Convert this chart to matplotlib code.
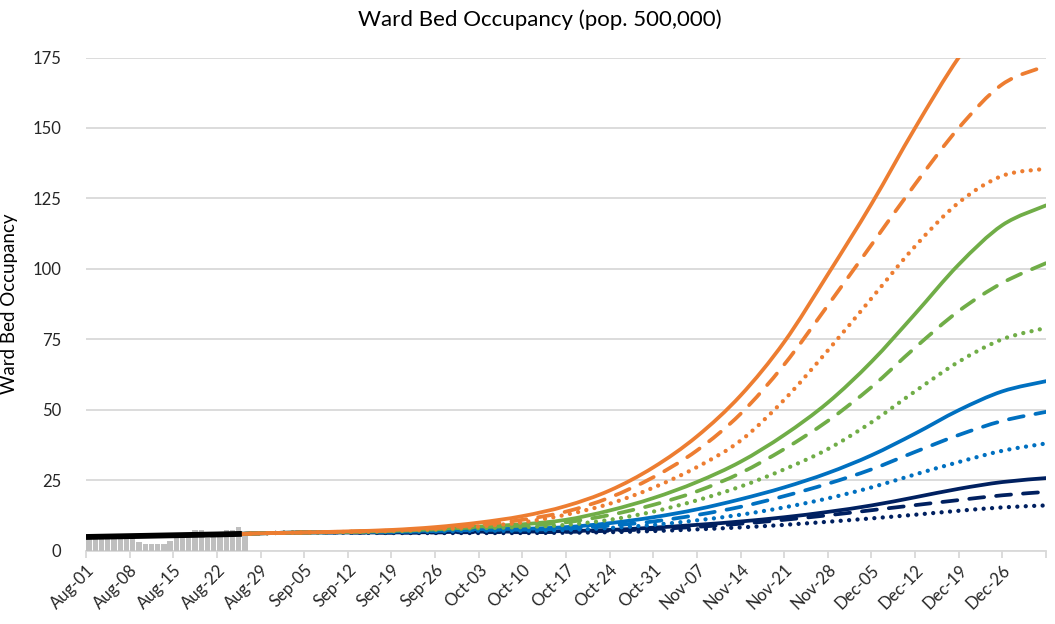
import matplotlib
matplotlib.use("Agg")
import matplotlib.pyplot as plt
import matplotlib.dates as mdates
from matplotlib.path import Path
from matplotlib.patches import PathPatch
import numpy as np
import pandas as pd

plt.rcParams['font.family'] = ['Lato', 'DejaVu Sans']

# ---------------- data ----------------
bar_start = "2020-08-01"
bar_values = [4.3, 4.3, 4.3, 4.3, 4.3, 4.3, 4.3, 4.3, 3.1, 2.3, 2.3, 2.3, 2.3, 3.4,
              5.5, 5.5, 5.5, 7.3, 7.3, 4.3, 5.5, 5.5, 7.3, 7.3, 8.2, 5.5]

actual_dates = ["2020-08-01", "2020-08-08", "2020-08-15", "2020-08-22", "2020-08-26"]
actual_values = [4.8, 5.1, 5.4, 5.7, 5.9]

scen_dates = ["2020-08-26", "2020-08-29", "2020-09-05", "2020-09-12", "2020-09-19",
              "2020-09-26", "2020-10-03", "2020-10-10", "2020-10-17", "2020-10-24",
              "2020-10-31", "2020-11-07", "2020-11-14", "2020-11-21", "2020-11-28",
              "2020-12-05", "2020-12-12", "2020-12-19", "2020-12-26", "2021-01-02"]

orange_solid = [5.9, 6.1, 6.4, 6.8, 7.3, 8.3, 9.9, 12.2, 15.8, 21.3, 29.5, 40.5, 55, 74, 98, 123, 150, 175, 195, 208]
orange_dash = [5.9, 6.1, 6.4, 6.7, 7.1, 7.9, 9.1, 10.9, 13.8, 18.8, 26, 35.5, 48.5, 66, 87, 108.5, 130, 150, 165.5, 172]
orange_dot = [5.9, 6.1, 6.4, 6.6, 7.0, 7.6, 8.5, 10.0, 12.7, 16.6, 22.3, 29.6, 39, 53.5, 71, 89.5, 108, 123.5, 133, 135.5]
green_solid = [5.9, 6.1, 6.4, 6.6, 7.0, 7.6, 8.5, 9.3, 10.9, 14.2, 18.6, 24.3, 31.5, 41, 52.5, 67, 84, 101.5, 115.5, 122.5]
green_dash = [5.9, 6.1, 6.4, 6.6, 6.9, 7.5, 8.3, 8.8, 10.0, 12.6, 16.2, 21, 27.5, 36, 46, 58, 72, 85, 95, 102]
green_dot = [5.9, 6.1, 6.4, 6.5, 6.8, 7.3, 7.9, 8.3, 9.1, 10.9, 13.8, 17.8, 22.7, 28.8, 36, 45.5, 56.5, 67, 75, 79]
blue_solid = [5.9, 6.1, 6.4, 6.5, 6.7, 7.1, 7.6, 7.7, 8.3, 9.7, 11.8, 14.6, 18.2, 22.4, 27.5, 33.8, 41.5, 49.8, 56.5, 60.1]
blue_dash = [5.9, 6.1, 6.4, 6.5, 6.6, 6.9, 7.3, 7.4, 7.8, 8.8, 10.3, 12.6, 15.5, 19.3, 23.7, 28.8, 35, 41, 46, 49.2]
blue_dot = [5.9, 6.1, 6.4, 6.4, 6.5, 6.7, 7.0, 7.0, 7.3, 8.0, 9.1, 10.7, 12.7, 15.3, 18.5, 22.4, 27, 31.4, 35.4, 38]
navy_solid = [5.9, 6.1, 6.4, 6.4, 6.4, 6.5, 6.7, 6.7, 6.9, 7.3, 8.1, 9.1, 10.3, 11.8, 13.7, 16, 18.9, 21.9, 24.3, 25.7]
navy_dash = [5.9, 6.1, 6.4, 6.4, 6.3, 6.4, 6.5, 6.5, 6.6, 7.0, 7.6, 8.4, 9.5, 10.9, 12.5, 14.3, 16.1, 17.9, 19.6, 20.8]
navy_dot = [5.9, 6.1, 6.4, 6.3, 6.2, 6.2, 6.2, 6.2, 6.3, 6.5, 6.9, 7.5, 8.2, 9.1, 10.2, 11.4, 12.7, 14.1, 15.3, 16]

tick_start = "2020-08-01"
tick_end = "2021-01-02"

title = "Ward Bed Occupancy (pop. 500,000)"
ylabel = "Ward Bed Occupancy"

# ---------------- styles ----------------
ORANGE = "#ED7D31"
GREEN = "#70AD47"
BLUE = "#0070C0"
NAVY = "#002060"
GRID = "#D9D9D9"
BAR = "#BFBFBF"
LW = 2.7
LW_DOT = 3.1

series = [
    (orange_solid, ORANGE, "solid"), (orange_dash, ORANGE, "dash"), (orange_dot, ORANGE, "dot"),
    (green_solid, GREEN, "solid"), (green_dash, GREEN, "dash"), (green_dot, GREEN, "dot"),
    (blue_solid, BLUE, "solid"), (blue_dash, BLUE, "dash"), (blue_dot, BLUE, "dot"),
    (navy_solid, NAVY, "solid"), (navy_dash, NAVY, "dash"), (navy_dot, NAVY, "dot"),
]


def smooth_path(x, y):
    """Excel-style smoothed line: cubic Bezier segments through every data point."""
    x = np.asarray(x, float)
    y = np.asarray(y, float)
    n = len(x)
    verts = [(x[0], y[0])]
    codes = [Path.MOVETO]
    for i in range(n - 1):
        i0 = max(i - 1, 0)
        i3 = min(i + 2, n - 1)
        c1 = (x[i] + (x[i + 1] - x[i0]) / 6.0, y[i] + (y[i + 1] - y[i0]) / 6.0)
        c2 = (x[i + 1] - (x[i3] - x[i]) / 6.0, y[i + 1] - (y[i3] - y[i]) / 6.0)
        verts += [c1, c2, (x[i + 1], y[i + 1])]
        codes += [Path.CURVE4] * 3
    return Path(verts, codes)


fig = plt.figure(figsize=(10.55, 6.24), dpi=100)
ax = fig.add_axes([86 / 1055, 1 - 550.5 / 624, 960 / 1055, 493 / 624])

bar_dates = pd.date_range(bar_start, periods=len(bar_values))
bar_x = mdates.date2num(bar_dates) + 0.07
ax.bar(bar_x, bar_values, width=0.85, align="edge", color=BAR, zorder=2)

sx = mdates.date2num(pd.to_datetime(scen_dates))
for vals, col, sty in reversed(series):
    lw = LW
    if sty == "solid":
        ls = "solid"
    elif sty == "dash":
        ls = (0, (4.0, 3.2))
    else:
        lw = LW_DOT
        ls = (0, (0.01, 1.95))
    patch = PathPatch(smooth_path(sx, vals), facecolor="none", edgecolor=col,
                      lw=lw, linestyle=ls, zorder=3, capstyle="round",
                      joinstyle="round")
    ax.add_patch(patch)

ax.plot(pd.to_datetime(actual_dates), actual_values, color="black", lw=4.2, zorder=4,
        solid_capstyle="butt")

ax.set_ylim(0, 175)
ax.set_yticks(range(0, 176, 25))
ax.set_xlim(pd.Timestamp(tick_start), pd.Timestamp(tick_end))
ticks = pd.date_range(tick_start, tick_end, freq="7D")
ax.set_xticks(ticks)
labels = [t.strftime("%b-%d") for t in ticks]
labels[-1] = ""
ax.set_xticklabels(labels, rotation=45, ha="right", rotation_mode="anchor",
                   fontsize=12, color="#262626")

ax.grid(axis="y", color=GRID, lw=1.3, zorder=0)
ax.set_axisbelow(True)
for s in ["top", "right", "left"]:
    ax.spines[s].set_visible(False)
ax.spines["bottom"].set_color(GRID)
ax.spines["bottom"].set_linewidth(1.3)
ax.spines["bottom"].set_zorder(1)
ax.tick_params(axis="x", direction="out", length=5, width=1.3, color=GRID, pad=3)
ax.tick_params(axis="y", length=0, labelsize=12, labelcolor="#262626", pad=18)

ax.set_ylabel(ylabel, fontsize=13.5, color="black")
ax.yaxis.set_label_coords(-68 / 960, 0.5)
fig.text(540 / 1055, 1 - 20 / 624, title, ha="center", va="center", fontsize=16, color="black")

fig.savefig("out.png", dpi=100)
